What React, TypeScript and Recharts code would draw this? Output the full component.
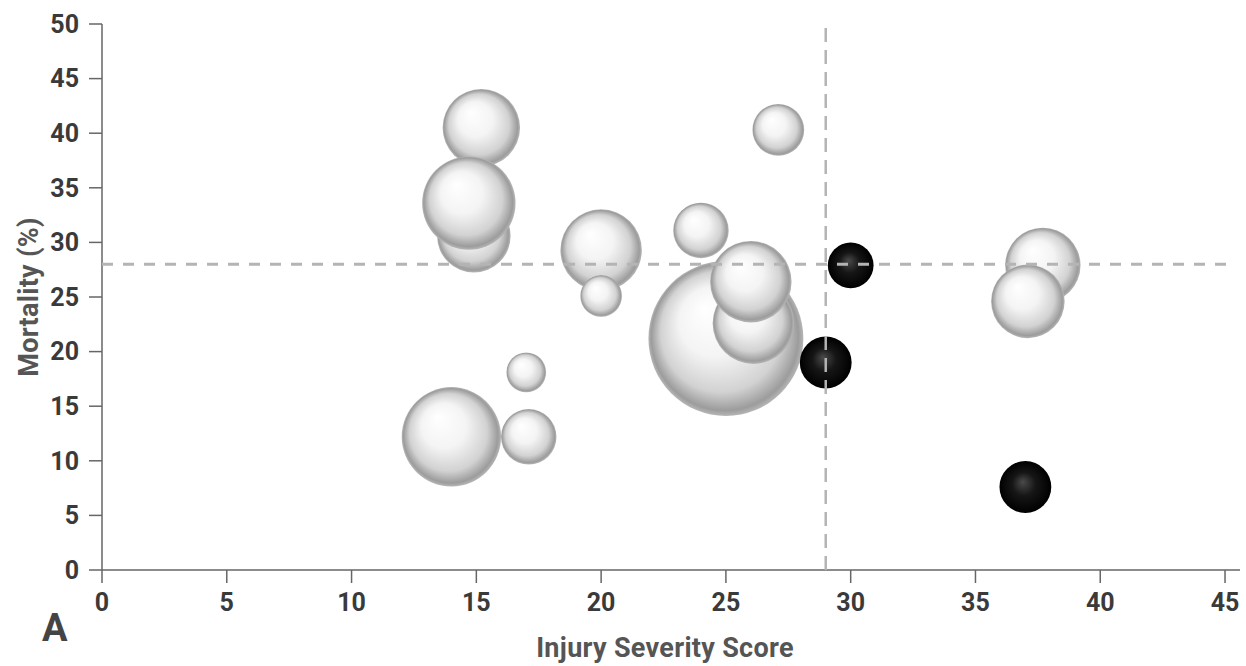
import { ScatterChart, Scatter, XAxis, YAxis, ZAxis } from "recharts";

// white spheres, listed back to front
const whiteIss = [14.9, 15.2, 14.7, 20.0, 20.0, 24.0, 27.1, 25.0, 26.1, 26.0, 17.0, 14.0, 17.1, 37.7, 37.1];
const whiteMortality = [30.6, 40.5, 33.6, 29.3, 25.1, 31.1, 40.3, 21.2, 22.6, 26.4, 18.1, 12.2, 12.2, 27.9, 24.6];
const whiteSize = [137, 152, 221, 168, 44, 78, 68, 608, 168, 168, 40, 250, 78, 144, 137];

// black spheres
const blackIss = [30.0, 29.0, 37.0];
const blackMortality = [27.9, 19.0, 7.6];
const blackSize = [53, 68, 68];

const xTicks = [0, 5, 10, 15, 20, 25, 30, 35, 40, 45];
const yTicks = [0, 5, 10, 15, 20, 25, 30, 35, 40, 45, 50];

// cut-off lines
const cutoffIss = 29;
const cutoffMortality = 28;
const issSpan = [0, 45.1];
const mortalitySpan = [0, 50];

const whiteData = whiteIss.map((x, i) => ({ x, y: whiteMortality[i], n: whiteSize[i] }));
const blackData = blackIss.map((x, i) => ({ x, y: blackMortality[i], n: blackSize[i] }));
const hLine = issSpan.map((x) => ({ x, y: cutoffMortality, n: 0 }));
const vLine = mortalitySpan.map((y) => ({ x: cutoffIss, y, n: 0 }));

const font = "Roboto, 'DejaVu Sans', sans-serif";
const tickStyle = { fill: "#3a3a3a", fontSize: 25, fontWeight: 700, fontFamily: font };
const labelStyle = { fill: "#555", fontSize: 27, fontWeight: 700, fontFamily: font, letterSpacing: 0.3 };

function Sphere(props: any) {
  const { cx, cy, width, fill } = props;
  if (cx == null || cy == null) return null;
  return <circle cx={cx} cy={cy} r={width / 2} fill={fill} />;
}

const NoDot = () => <g />;

export default function App() {
  return (
    <div style={{ position: "absolute", left: 0, top: 0, background: "#fff" }}>
      <ScatterChart width={1246} height={666} margin={{ top: 24, right: 6, bottom: 0, left: 0 }}>
        <defs>
          <radialGradient id="sphereWhite" cx="50%" cy="50%" r="50%" fx="36%" fy="30%">
            <stop offset="0%" stopColor="#ffffff" />
            <stop offset="45%" stopColor="#f4f4f4" />
            <stop offset="78%" stopColor="#d2d2d2" />
            <stop offset="95%" stopColor="#9c9c9c" />
            <stop offset="100%" stopColor="#b6b6b6" />
          </radialGradient>
          <radialGradient id="sphereBlack" cx="50%" cy="50%" r="50%" fx="45%" fy="40%">
            <stop offset="0%" stopColor="#4a4a4a" />
            <stop offset="45%" stopColor="#161616" />
            <stop offset="100%" stopColor="#000000" />
          </radialGradient>
        </defs>
        <XAxis
          type="number"
          dataKey="x"
          domain={[0, 45.6]}
          ticks={xTicks}
          height={96}
          tickSize={13}
          tickMargin={10}
          stroke="#666"
          strokeWidth={1.5}
          tick={tickStyle}
          label={{
            value: "Injury Severity Score",
            position: "insideBottom",
            offset: 9,
            dx: -6,
            style: labelStyle,
          }}
        />
        <YAxis
          type="number"
          dataKey="y"
          domain={[0, 50]}
          ticks={yTicks}
          width={102}
          tickSize={13}
          tickMargin={10}
          stroke="#666"
          strokeWidth={1.5}
          tick={tickStyle}
          label={{
            value: "Mortality (%)",
            angle: -90,
            position: "insideLeft",
            offset: 28,
            style: { ...labelStyle, textAnchor: "middle" },
          }}
        />
        <ZAxis type="number" dataKey="n" domain={[0, 600]} range={[0, 600 * 10 * Math.PI]} />
        <Scatter
          data={whiteData}
          fill="url(#sphereWhite)"
          shape={(p: any) => <Sphere {...p} />}
          isAnimationActive={false}
        />
        <Scatter
          data={blackData}
          fill="url(#sphereBlack)"
          shape={(p: any) => <Sphere {...p} />}
          isAnimationActive={false}
        />
        <Scatter
          data={hLine}
          line={{ stroke: "#b4b4b4", strokeWidth: 3, strokeDasharray: "11 10" }}
          shape={NoDot}
          isAnimationActive={false}
        />
        <Scatter
          data={vLine}
          line={{ stroke: "#b4b4b4", strokeWidth: 2.5, strokeDasharray: "14 8" }}
          shape={NoDot}
          isAnimationActive={false}
        />
        <text x={42} y={641} fill="#444" fontSize={38} fontWeight={700} fontFamily={font}>
          A
        </text>
      </ScatterChart>
    </div>
  );
}
